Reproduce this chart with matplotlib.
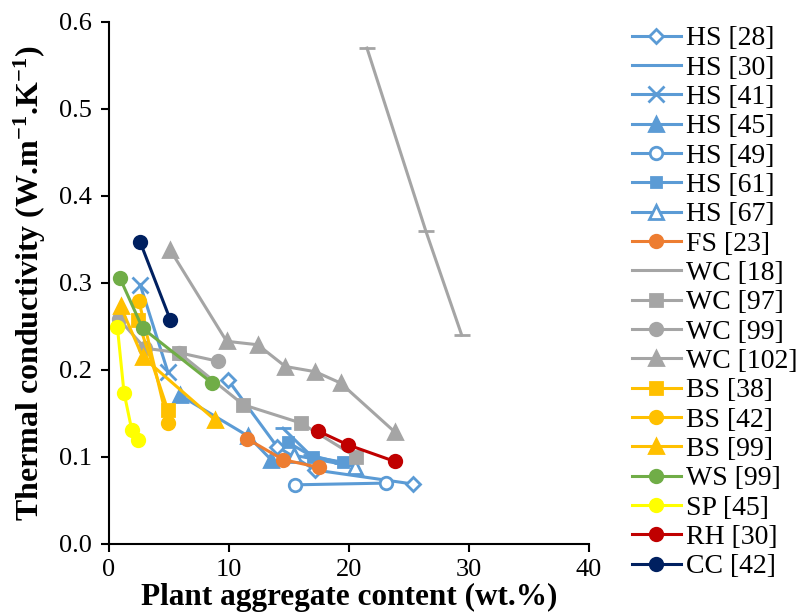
import matplotlib
matplotlib.use("Agg")
import matplotlib.pyplot as plt

plt.rcParams['font.family'] = ['Liberation Serif', 'DejaVu Serif']
plt.rcParams['mathtext.default'] = 'regular'

# data (x = wt.%, y = W/m.K)
hs28_x = [9.9, 14.0, 17.2, 25.3]
hs28_y = [0.189, 0.112, 0.085, 0.069]
hs30_x = [14.5, 16.8, 19.4]
hs30_y = [0.133, 0.102, 0.093]
hs41_x = [2.6, 4.9]
hs41_y = [0.298, 0.198]
hs45_x = [5.9, 11.6, 13.5]
hs45_y = [0.171, 0.124, 0.097]
hs49_x = [15.5, 23.1]
hs49_y = [0.068, 0.070]
hs61_x = [14.9, 17.0, 19.5]
hs61_y = [0.117, 0.100, 0.094]
hs67_x = [15.4, 20.5]
hs67_y = [0.102, 0.089]
fs23_x = [11.5, 14.5, 17.5]
fs23_y = [0.121, 0.097, 0.088]
wc18_x = [21.5, 26.4, 29.4]
wc18_y = [0.570, 0.360, 0.240]
wc97_x = [5.8, 11.2, 16.0, 20.6]
wc97_y = [0.220, 0.160, 0.139, 0.100]
wc99_x = [0.8, 3.0, 5.8, 9.1]
wc99_y = [0.259, 0.225, 0.220, 0.210]
wc102_x = [5.1, 9.8, 12.4, 14.7, 17.2, 19.3, 23.8]
wc102_y = [0.338, 0.233, 0.229, 0.204, 0.198, 0.185, 0.129]
bs38_x = [2.4, 4.9]
bs38_y = [0.257, 0.154]
bs42_x = [2.5, 4.9]
bs42_y = [0.279, 0.139]
bs99_x = [0.97, 2.8, 8.8]
bs99_y = [0.273, 0.215, 0.143]
ws99_x = [0.9, 2.8, 8.6]
ws99_y = [0.306, 0.248, 0.185]
sp45_x = [0.7, 1.25, 1.9, 2.4]
sp45_y = [0.249, 0.174, 0.131, 0.120]
rh30_x = [17.4, 19.9, 23.8]
rh30_y = [0.130, 0.114, 0.095]
cc42_x = [2.6, 5.1]
cc42_y = [0.347, 0.258]

blue = '#5B9BD5'
orange = '#ED7D31'
gray = '#A5A5A5'
gold = '#FFC000'
green = '#70AD47'
yellow = '#FFFF00'
red = '#C00000'
navy = '#002060'

fig = plt.figure(figsize=(7.98, 6.16), dpi=100)
ax = fig.add_axes([0.1366, 0.1169, 0.6014, 0.8474])

lw = 2.2
ms = 9
series = [
    (hs28_x, hs28_y, 'HS [28]', blue, 'D', 'white', 7.5),
    (hs30_x, hs30_y, 'HS [30]', blue, '_', blue, 12),
    (hs41_x, hs41_y, 'HS [41]', blue, 'x', blue, 11),
    (hs45_x, hs45_y, 'HS [45]', blue, '^', blue, 10),
    (hs49_x, hs49_y, 'HS [49]', blue, 'o', 'white', ms),
    (hs61_x, hs61_y, 'HS [61]', blue, 's', blue, 7),
    (hs67_x, hs67_y, 'HS [67]', blue, '^', 'white', 9.5),
    (fs23_x, fs23_y, 'FS [23]', orange, 'o', orange, ms),
    (wc18_x, wc18_y, 'WC [18]', gray, '_', gray, 12),
    (wc97_x, wc97_y, 'WC [97]', gray, 's', gray, 8.5),
    (wc99_x, wc99_y, 'WC [99]', gray, 'o', gray, ms),
    (wc102_x, wc102_y, 'WC [102]', gray, '^', gray, 9.5),
    (bs38_x, bs38_y, 'BS [38]', gold, 's', gold, 8.5),
    (bs42_x, bs42_y, 'BS [42]', gold, 'o', gold, ms),
    (bs99_x, bs99_y, 'BS [99]', gold, '^', gold, 9.5),
    (ws99_x, ws99_y, 'WS [99]', green, 'o', green, ms),
    (sp45_x, sp45_y, 'SP [45]', yellow, 'o', yellow, ms),
    (rh30_x, rh30_y, 'RH [30]', red, 'o', red, ms),
    (cc42_x, cc42_y, 'CC [42]', navy, 'o', navy, ms),
]

for x, y, lab, c, m, fc, s in series:
    ax.plot(x, y, color=c, lw=lw, marker=m, markersize=s, markerfacecolor=fc,
            markeredgecolor=c, markeredgewidth=2, label=lab)

ax.set_xlim(0, 40)
ax.set_ylim(0, 0.6)
ax.set_xticks([0, 10, 20, 30, 40])
ax.set_yticks([0.0, 0.1, 0.2, 0.3, 0.4, 0.5, 0.6])
ax.set_yticklabels(['0.0', '0.1', '0.2', '0.3', '0.4', '0.5', '0.6'])
ax.spines['top'].set_visible(False)
ax.spines['right'].set_visible(False)
ax.spines['left'].set_linewidth(1.5)
ax.spines['bottom'].set_linewidth(1.5)
ax.tick_params(direction='out', length=6, width=1.5, labelsize=19)
ax.tick_params(axis='x', pad=5)
ax.tick_params(axis='y', pad=6)

ax.set_xlabel('Plant aggregate content (wt.%)', fontsize=22.5, fontweight='bold', labelpad=1)
ax.set_ylabel('Thermal conductivity (W.m$^{-1}$.K$^{-1}$)', fontsize=23,
              fontweight='bold', labelpad=8)

fig.legend(loc='upper left', bbox_to_anchor=(0.792, 0.958), frameon=False,
           fontsize=20, labelspacing=0.14, handlelength=1.75, handletextpad=0.2,
           borderaxespad=0, borderpad=0)

fig.savefig('out.png', dpi=100)
